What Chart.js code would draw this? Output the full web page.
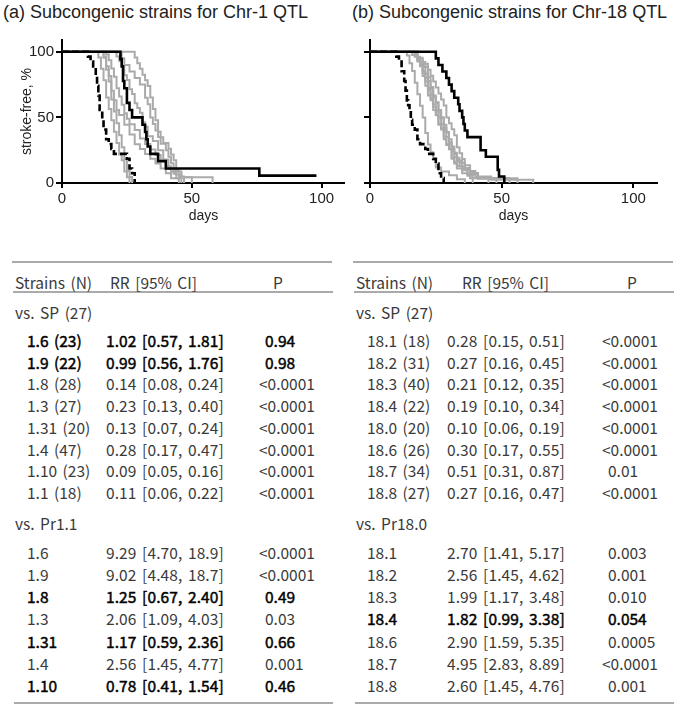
<!DOCTYPE html>
<html>
<head>
<meta charset="utf-8">
<script src="https://cdn.jsdelivr.net/npm/chart.js@4.4.0/dist/chart.umd.min.js"></script>
<style>
  body { margin: 0; background: #fff; width: 685px; height: 709px; position: relative; overflow: hidden;
         font-family: "Liberation Sans", Arial, sans-serif; }
  .title { position: absolute; top: 2px; font-size: 18px; color: #222; white-space: nowrap; }
  canvas { position: absolute; top: 0; }
  .tbl { position: absolute; font-family: "Noto Sans CJK JP", sans-serif; font-size: 15.5px; color: #3a3a3a;
         white-space: nowrap; line-height: 20px; word-spacing: 2px; }
  .num { letter-spacing: 0.1px; }
  .b { color: #000; -webkit-text-stroke: 0.45px #000; }
  .rule { position: absolute; height: 2px; background: #aaa; }
</style>
</head>
<body>
<div class="title" style="left:3px">(a) Subcongenic strains for Chr-1 QTL</div>
<div class="title" style="left:352px">(b) Subcongenic strains for Chr-18 QTL</div>
<canvas id="chartA" width="345" height="225" style="left:0"></canvas>
<canvas id="chartB" width="340" height="225" style="left:345px"></canvas>

<script>
// ticks
const xTicks = [0, 50, 100];
const yTicks = [0, 50, 100];

// (a) Chr-1 : [day, % stroke-free]
const spA   = [[0,100],[9,100],[10,96.3],[11,92.6],[12,88.9],[13,81.5],[13.5,74.1],[14,66.7],[14.5,55.6],[15.5,48.1],[16,40.7],[17,33.3],[18,29.6],[19,25.9],[20,22.2],[25,18.5],[26,11.1],[27,7.4],[28,0]];
const pr1_1 = [[0,100],[22,100],[22.5,94.4],[23,88.9],[23.5,77.8],[24,72.2],[25,61.1],[26,55.6],[27,50],[31,44.4],[32,38.9],[32.5,33.3],[33,27.8],[34,22.2],[37,16.7],[40,11.1],[76,5.6],[98,5.6]];
const s1_6  = [[0,100],[13,100],[14,95.7],[15,87],[16,78.3],[17,65.2],[18,56.5],[19,47.8],[20,39.1],[21,30.4],[22,21.7],[23,17.4],[24,8.7],[25,4.3],[26,0]];
const s1_9  = [[0,100],[15,100],[16,95.5],[17,86.4],[18,77.3],[19,63.6],[20,54.5],[21,45.5],[22,36.4],[23,27.3],[24,18.2],[25,9.1],[26,4.5],[27,0]];
const s1_3  = [[0,100],[15,100],[16,96.3],[17,88.9],[18,81.5],[19,70.4],[20,63],[21,55.6],[22,51.9],[24,44.4],[26,37],[28,29.6],[30,25.9],[32,22.2],[34,18.5],[36,14.8],[38,11.1],[40,7.4],[42,3.7],[45,0]];
const s1_4  = [[0,100],[16,100],[17,97.9],[18,93.6],[19,87.2],[20,80.9],[21,72.3],[22,66],[23,59.6],[24,53.2],[25,48.9],[26,44.7],[28,40.4],[30,34],[32,29.8],[34,25.5],[36,21.3],[38,17],[40,12.8],[42,8.5],[44,6.4],[46,4.3],[58,0]];
const s1_8  = [[0,100],[20,100],[21,96.4],[22,92.9],[23,89.3],[24,82.1],[25,78.6],[26,71.4],[27,67.9],[28,60.7],[29,57.1],[30,53.6],[31,46.4],[32,42.9],[33,35.7],[35,32.1],[37,25],[39,17.9],[41,10.7],[43,7.1],[44,3.6],[46,0]];
const s1_31 = [[0,100],[22,100],[23,95],[24,90],[26,85],[28,80],[30,75],[32,65],[33,60],[34,50],[35,45],[36,40],[37,35],[38,30],[40,25],[41,20],[42,15],[43,10],[45,5],[47,0]];
const s1_10 = [[0,100],[26,100],[28,95.7],[29,91.3],[30,87],[31,82.6],[32,78.3],[33,73.9],[34,65.2],[35,56.5],[36,47.8],[37,39.1],[38,34.8],[39,30.4],[41,26.1],[42,21.7],[43,17.4],[44,8.7],[46,4.3],[50,0]];

// (b) Chr-18
const spB    = [[0,100],[9,100],[10,96.3],[11,92.6],[12,85.2],[13,77.8],[13.5,70.4],[14,63],[14.5,59.3],[15,55.6],[15.5,48.1],[16,44.4],[17,40.7],[18,33.3],[19,29.6],[21,25.9],[22,22.2],[24,18.5],[25,14.8],[26,7.4],[27,3.7],[28,0]];
const pr18_0 = [[0,100],[24,100],[25,95],[26,90],[27.5,85],[29,80],[30,75],[31,70],[32,65],[33.5,60],[34,55],[35,50],[35.5,45],[36,40],[37,35],[42,25],[44,20],[48.5,10],[49,5],[51,0]];
const s18_1  = [[0,100],[17,100],[18,94.4],[20,88.9],[21,83.3],[22,77.8],[23,72.2],[24,66.7],[25,61.1],[26,55.6],[27,50],[28,44.4],[29,38.9],[30,33.3],[31,27.8],[32,22.2],[33,16.7],[35,11.1],[37,5.6],[39,0]];
const s18_2  = [[0,100],[16,100],[17,96.8],[18,93.5],[19,90.3],[20,83.9],[21,77.4],[22,71],[23,64.5],[24,58.1],[25,51.6],[26,45.2],[27,41.9],[28,35.5],[29,29],[30,25.8],[31,19.4],[32,16.1],[33,12.9],[35,9.7],[37,6.5],[41,3.2],[48,0]];
const s18_3  = [[0,100],[15,100],[16,97.5],[18,95],[19,90],[20,85],[21,80],[22,72.5],[23,67.5],[24,60],[25,55],[26,50],[27,45],[28,40],[29,35],[30,30],[31,25],[32,20],[33,17.5],[34,12.5],[36,10],[38,7.5],[41,5],[46,2.5],[62,0]];
const s18_4  = [[0,100],[17,100],[18,95.5],[20,90.9],[22,86.4],[23,81.8],[24,77.3],[25,72.7],[26,68.2],[27,63.6],[28,59.1],[29,50],[30,45.5],[31,40.9],[32,36.4],[33,27.3],[34,22.7],[35,18.2],[36,13.6],[38,9.1],[40,4.5],[45,0]];
const s18_6  = [[0,100],[17,100],[18,96.2],[19,92.3],[21,88.5],[22,80.8],[23,73.1],[24,65.4],[25,61.5],[26,53.8],[27,50],[28,42.3],[29,38.5],[30,30.8],[31,26.9],[32,23.1],[33,19.2],[34,15.4],[36,11.5],[38,7.7],[41,3.8],[53,0]];
const s18_7  = [[0,100],[13,100],[14,97.1],[15,91.2],[16,85.3],[17,76.5],[18,67.6],[19,58.8],[20,50],[21,38.2],[22,29.4],[23,23.5],[24,17.6],[25,11.8],[27,8.8],[30,5.9],[33,2.9],[36,0]];
const s18_8  = [[0,100],[16,100],[17,96.3],[18,92.6],[19,88.9],[20,81.5],[21,74.1],[22,66.7],[23,63],[24,55.6],[25,51.9],[26,44.4],[27,40.7],[28,33.3],[29,29.6],[30,25.9],[31,18.5],[32,14.8],[33,11.1],[35,7.4],[38,3.7],[56,0]];

// tables: [strain, RR [95% CI], P, bold]
const tabA_sp = [
  ["1.6 (23)", "1.02 [0.57, 1.81]", "0.94", true],
  ["1.9 (22)", "0.99 [0.56, 1.76]", "0.98", true],
  ["1.8 (28)", "0.14 [0.08, 0.24]", "<0.0001", false],
  ["1.3 (27)", "0.23 [0.13, 0.40]", "<0.0001", false],
  ["1.31 (20)", "0.13 [0.07, 0.24]", "<0.0001", false],
  ["1.4 (47)", "0.28 [0.17, 0.47]", "<0.0001", false],
  ["1.10 (23)", "0.09 [0.05, 0.16]", "<0.0001", false],
  ["1.1 (18)", "0.11 [0.06, 0.22]", "<0.0001", false]
];
const tabA_pr = [
  ["1.6", "9.29 [4.70, 18.9]", "<0.0001", false],
  ["1.9", "9.02 [4.48, 18.7]", "<0.0001", false],
  ["1.8", "1.25 [0.67, 2.40]", "0.49", true],
  ["1.3", "2.06 [1.09, 4.03]", "0.03", false],
  ["1.31", "1.17 [0.59, 2.36]", "0.66", true],
  ["1.4", "2.56 [1.45, 4.77]", "0.001", false],
  ["1.10", "0.78 [0.41, 1.54]", "0.46", true]
];
const tabB_sp = [
  ["18.1 (18)", "0.28 [0.15, 0.51]", "<0.0001", false],
  ["18.2 (31)", "0.27 [0.16, 0.45]", "<0.0001", false],
  ["18.3 (40)", "0.21 [0.12, 0.35]", "<0.0001", false],
  ["18.4 (22)", "0.19 [0.10, 0.34]", "<0.0001", false],
  ["18.0 (20)", "0.10 [0.06, 0.19]", "<0.0001", false],
  ["18.6 (26)", "0.30 [0.17, 0.55]", "<0.0001", false],
  ["18.7 (34)", "0.51 [0.31, 0.87]", "0.01", false],
  ["18.8 (27)", "0.27 [0.16, 0.47]", "<0.0001", false]
];
const tabB_pr = [
  ["18.1", "2.70 [1.41, 5.17]", "0.003", false],
  ["18.2", "2.56 [1.45, 4.62]", "0.001", false],
  ["18.3", "1.99 [1.17, 3.48]", "0.010", false],
  ["18.4", "1.82 [0.99, 3.38]", "0.054", true],
  ["18.6", "2.90 [1.59, 5.35]", "0.0005", false],
  ["18.7", "4.95 [2.83, 8.89]", "<0.0001", false],
  ["18.8", "2.60 [1.45, 4.76]", "0.001", false]
];

const GRAY = '#aaaaaa';

function curve(label, data, kind) {
  return {
    label: label,
    data: data,
    stepped: true,
    fill: false,
    pointRadius: 0,
    borderColor: kind === 'gray' ? GRAY : '#000',
    borderWidth: kind === 'gray' ? 2 : 2.6,
    borderDash: kind === 'dash' ? [7, 3] : []
  };
}

function makePlot(id, datasets, yAxisW, rightPad, yTitle) {
  const font = { family: "'Liberation Sans', Arial, sans-serif", size: 15 };
  const tfont = { family: "'Liberation Sans', Arial, sans-serif", size: 14 };
  new Chart(document.getElementById(id), {
    type: 'line',
    data: { datasets: datasets },
    options: {
      responsive: false,
      animation: false,
      devicePixelRatio: 1,
      layout: { padding: { top: 40, right: rightPad, left: 0, bottom: 0 } },
      plugins: { legend: { display: false }, tooltip: { enabled: false } },
      scales: {
        x: {
          type: 'linear', min: 0, max: 109,
          afterBuildTicks: s => { s.ticks = xTicks.map(v => ({ value: v })); },
          afterFit: s => { s.height = 42; },
          grid: { drawOnChartArea: false, drawTicks: true, tickLength: 5, color: '#000', lineWidth: 2 },
          border: { color: '#000', width: 2 },
          ticks: { color: '#222', font: font, padding: 2, maxRotation: 0 },
          title: { display: true, text: 'days', color: '#222', font: tfont, padding: { top: 3.6, bottom: 0 } }
        },
        y: {
          type: 'linear', min: 0, max: 109,
          afterBuildTicks: s => { s.ticks = yTicks.map(v => ({ value: v })); },
          afterFit: s => { s.width = yAxisW; },
          grid: { drawOnChartArea: false, drawTicks: true, tickLength: 6, color: '#000', lineWidth: 2 },
          border: { color: '#000', width: 2 },
          ticks: { display: !!yTitle, color: '#222', font: font, padding: 2 },
          title: { display: !!yTitle, text: yTitle || '', color: '#222', font: tfont, padding: { top: 18.6, bottom: 0 } }
        }
      }
    }
  });
}

makePlot('chartA', [
  curve('Pr1.1', pr1_1, 'solid'),
  curve('SP', spA, 'dash'),
  curve('1.6', s1_6, 'gray'),
  curve('1.9', s1_9, 'gray'),
  curve('1.8', s1_8, 'gray'),
  curve('1.3', s1_3, 'gray'),
  curve('1.31', s1_31, 'gray'),
  curve('1.4', s1_4, 'gray'),
  curve('1.10', s1_10, 'gray')
], 62, 0, 'stroke-free, %');

makePlot('chartB', [
  curve('Pr18.0', pr18_0, 'solid'),
  curve('SP', spB, 'dash'),
  curve('18.1', s18_1, 'gray'),
  curve('18.2', s18_2, 'gray'),
  curve('18.3', s18_3, 'gray'),
  curve('18.4', s18_4, 'gray'),
  curve('18.6', s18_6, 'gray'),
  curve('18.7', s18_7, 'gray'),
  curve('18.8', s18_8, 'gray')
], 25, 28, null);

// --- tables ---
function addText(x, y, text, bold, center, num) {
  const d = document.createElement('div');
  d.className = 'tbl' + (bold ? ' b' : '') + (num ? ' num' : '');
  d.style.left = x + 'px';
  d.style.top = (y - 10) + 'px';
  if (center) d.style.transform = 'translateX(-50%)';
  d.textContent = text;
  document.body.appendChild(d);
}
function addRule(x1, x2, y) {
  const d = document.createElement('div');
  d.className = 'rule';
  d.style.left = x1 + 'px';
  d.style.width = (x2 - x1) + 'px';
  d.style.top = (y - 1) + 'px';
  document.body.appendChild(d);
}
function addRow(ox, cols, r, y) {
  addText(ox + cols.name, y, r[0], r[3]);
  addText(ox + cols.rr, y, r[1], r[3], false, true);
  addText(ox + cols.p - (r[2][0] === '<' ? 6 : 0), y, r[2], r[3]);
}
function drawTable(ox, cols, secSP, secPr, prLabel) {
  addRule(ox + 12, ox + 332, 262);
  addRule(ox + 13, ox + 333, 292);
  addRule(ox + 14, ox + 333, 703);
  addText(ox + 15, 281.5, 'Strains (N)');
  addText(ox + cols.rrHead, 281.5, 'RR [95% CI]');
  addText(ox + cols.pHead, 281.5, 'P', false, true);
  addText(ox + 15, 311.5, 'vs. SP (27)');
  secSP.forEach((r, i) => addRow(ox, cols, r, 340 + i * 21.7));
  addText(ox + 15, 523, prLabel);
  secPr.forEach((r, i) => addRow(ox, cols, r, 551.7 + i * 22.2));
}
drawTable(0,   { name: 27, rr: 106, p: 265, rrHead: 110, pHead: 278 }, tabA_sp, tabA_pr, 'vs. Pr1.1');
drawTable(341, { name: 26, rr: 106, p: 267, rrHead: 121, pHead: 291 }, tabB_sp, tabB_pr, 'vs. Pr18.0');
</script>
</body>
</html>
